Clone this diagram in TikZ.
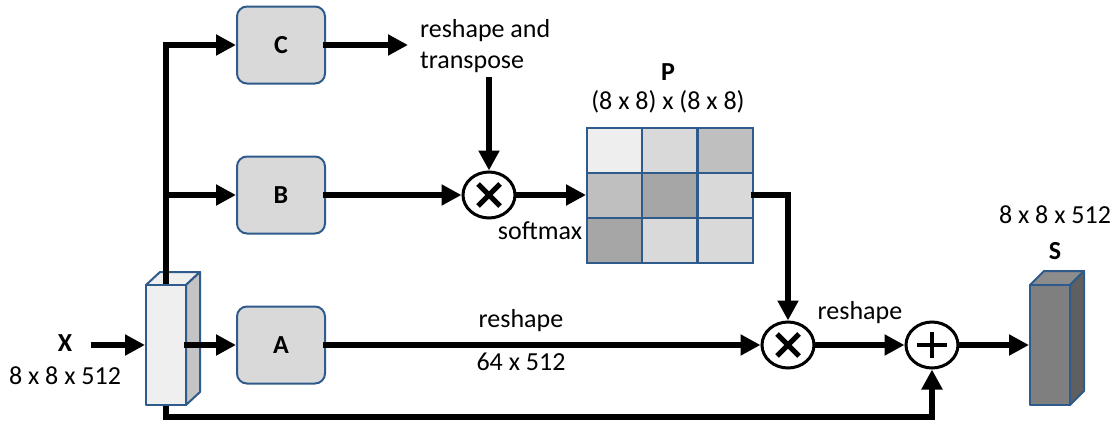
\documentclass[tikz,border=0pt]{standalone}
\usepackage{fontspec}
\setmainfont{Carlito}
\usetikzlibrary{arrows.meta,shapes.geometric}
\definecolor{bordblue}{HTML}{2E5A8C}
\definecolor{boxgray}{HTML}{D9D9D9}
\definecolor{c1}{HTML}{EEEEEE}
\definecolor{c2}{HTML}{D9D9D9}
\definecolor{c3}{HTML}{BFBFBF}
\definecolor{c4}{HTML}{A6A6A6}
\definecolor{sfront}{HTML}{7F7F7F}
\definecolor{sside}{HTML}{5F5F5F}
\definecolor{stop}{HTML}{8C8C8C}
\definecolor{xfront}{HTML}{EFEFEF}
\definecolor{xside}{HTML}{C4C4C4}
\begin{document}
\begin{tikzpicture}[x=0.5pt,y=-0.5pt,
  every node/.style={font=\fontsize{13}{15.5}\selectfont},
  blk/.style={draw=bordblue,line width=1pt,fill=boxgray,rounded corners=5pt,minimum width=44pt,minimum height=38.5pt,inner sep=0pt,font=\fontsize{13}{15}\selectfont\bfseries},
  conn/.style={line width=3pt,line cap=rect,-{Triangle[length=10pt,width=10pt]}},
  opc/.style={draw,line width=1.5pt,ellipse,fill=white,minimum width=26pt,minimum height=23pt,inner sep=0pt},
  face/.style={draw=bordblue,line width=1pt,line join=round},
  cell/.style={draw=bordblue,line width=1pt,minimum width=27.5pt,minimum height=22.5pt,inner sep=0pt},
  lbl/.style={font=\fontsize{13}{15}\selectfont\bfseries}]
\useasboundingbox (0,0) rectangle (1116,423);

% blocks
\node[blk] (C) at (281,45) {C};
\node[blk] (B) at (281,195) {B};
\node[blk] (A) at (281,345) {A};

% junction coordinates
\coordinate (jbot) at (166,417);
\coordinate (jB) at (166,195);
\coordinate (xin) at (94,345);
\coordinate (cout) at (408,45);
\coordinate (tin) at (489,80);

% tensor X top face (under the wire)
\draw[face,fill=xfront] (146,285) -- (160,272) -- (200,272) -- (186,285) -- cycle;

% main wires from X
\draw[conn] (jbot) |- (C.west);
\draw[conn] (jB) -- (B.west);

% operators
\node[opc] (m1) at (489,195) {};
\node[opc] (m2) at (788,345) {};
\node[opc] (add) at (932,345) {};
\draw[conn] (jbot) -| (add.south);

% tensor X front and side
\node[face,fill=xfront,minimum width=20pt,minimum height=60pt,inner sep=0pt] (Xf) at (166,345) {};
\draw[face,fill=xside] (186,285) -- (200,272) -- (200,392) -- (186,405) -- cycle;

\node[lbl] (Xl) at (65,343) {X};
\node (Xd) at (65,376) {8 x 8 x 512};
\draw[conn] (xin) -- (Xf.west);
\draw[conn] (Xf.east) -- (A.west);

% C branch
\draw[conn] (C.east) -- (cout);
\node[align=left,anchor=west] (rt) at (413,46) {reshape and\\transpose};
\draw[conn] (tin) -- (m1.north);

% B branch
\draw[conn] (B.east) -- (m1.west);

% P matrix
\node[cell,fill=c1] (p11) at (614.5,150) {};
\node[cell,fill=c2] (p12) at (669.5,150) {};
\node[cell,fill=c3] (p13) at (725,150) {};
\node[cell,fill=c3] (p21) at (614.5,195) {};
\node[cell,fill=c4] (p22) at (669.5,195) {};
\node[cell,fill=c2] (p23) at (725,195) {};
\node[cell,fill=c4] (p31) at (614.5,240) {};
\node[cell,fill=c2] (p32) at (669.5,240) {};
\node[cell,fill=c2] (p33) at (725,240) {};
\node[lbl] (Pl) at (668,72) {P};
\node (Pd) at (668,102) {(8 x 8) x (8 x 8)};
\draw[conn] (m1.east) -- (p21.west);
\node (sm) at (540,231) {softmax};
\draw[conn] (p23.east) -| (m2.north);

% A branch
\draw[conn] (A.east) -- (m2.west);
\node (r1) at (521,321) {reshape};
\node (r2) at (521,362) {64 x 512};
\draw[conn] (m2.east) -- (add.west);
\node (r3) at (860,313) {reshape};

% operator symbols
\draw[line width=2.5pt] ([shift={(-11,-11)}]m1.center) -- ([shift={(11,11)}]m1.center);
\draw[line width=2.5pt] ([shift={(-11,11)}]m1.center) -- ([shift={(11,-11)}]m1.center);
\draw[line width=2.5pt] ([shift={(-11,-11)}]m2.center) -- ([shift={(11,11)}]m2.center);
\draw[line width=2.5pt] ([shift={(-11,11)}]m2.center) -- ([shift={(11,-11)}]m2.center);
\draw[line width=2pt] ([shift={(-15,0)}]add.center) -- ([shift={(15,0)}]add.center);
\draw[line width=2pt] ([shift={(0,-13)}]add.center) -- ([shift={(0,13)}]add.center);

% tensor S
\draw[face,fill=stop] (1030,285) -- (1044,271) -- (1084,271) -- (1070,285) -- cycle;
\node[face,fill=sfront,minimum width=20pt,minimum height=60pt,inner sep=0pt] (Sf) at (1050,345) {};
\draw[face,fill=sside] (1070,285) -- (1084,271) -- (1084,391) -- (1070,405) -- cycle;
\draw[conn] (add.east) -- (Sf.west);
\node (Sd) at (1055,215) {8 x 8 x 512};
\node[lbl] (Sl) at (1055,251) {S};
\end{tikzpicture}
\end{document}
